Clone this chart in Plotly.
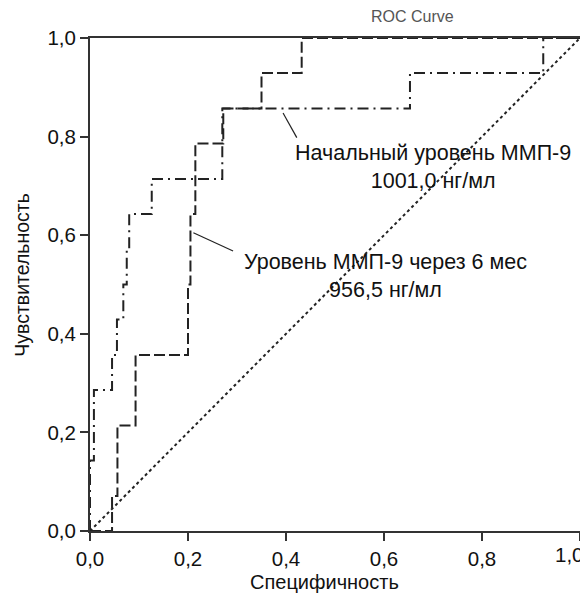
import plotly.graph_objects as go

# ROC points (1 - specificity, sensitivity)
fpr_6m = [0.0, 0.045, 0.056, 0.093, 0.200, 0.205, 0.215, 0.272, 0.350, 0.432, 1.0]
tpr_6m = [0.0, 0.071, 0.214, 0.357, 0.500, 0.643, 0.786, 0.857, 0.929, 1.000, 1.0]

fpr_base = [0.0, 0.0, 0.008, 0.045, 0.055, 0.068, 0.075, 0.080, 0.126, 0.270, 0.653, 0.925, 1.0]
tpr_base = [0.0, 0.143, 0.286, 0.357, 0.429, 0.500, 0.571, 0.643, 0.714, 0.857, 0.929, 1.000, 1.0]

diag_x = [0.0, 1.0]
diag_y = [0.0, 1.0]

tick_vals = [0.0, 0.2, 0.4, 0.6, 0.8, 1.0]
tick_text = ["0,0", "0,2", "0,4", "0,6", "0,8", "1,0"]

label_base = "Начальный уровень ММП-9<br>1001,0 нг/мл"
label_6m = "Уровень ММП-9 через 6 мес<br>956,5 нг/мл"
x_title = "Специфичность"
y_title = "Чувствительность"
chart_title = "ROC Curve"

FONT = "Liberation Sans, Arial, sans-serif"
INK = "#222222"
TXT = "#111111"

# the page body has an 8px margin, so the figure is drawn 8px smaller and
# all page-pixel positions below are shifted by that offset
OFF = 8
W, H = 588 - OFF, 595 - OFF
L, T = 90 - OFF, 38 - OFF
R = W - (580 - OFF)
B = H - (531.5 - OFF)
PW, PH = W - L - R, H - T - B


def px_x(p):  # page pixel -> paper x
    return (p - OFF - L) / PW


def px_y(p):  # page pixel -> paper y
    return (H - B - (p - OFF)) / PH


fig = go.Figure()
fig.add_trace(go.Scatter(x=diag_x, y=diag_y, mode="lines",
                         line=dict(color=INK, width=2, dash="3px,3px"),
                         hoverinfo="skip", showlegend=False))
fig.add_trace(go.Scatter(x=fpr_base, y=tpr_base, mode="lines", line_shape="hv",
                         line=dict(color=INK, width=2, dash="11px,5px,2px,5px"),
                         showlegend=False))
fig.add_trace(go.Scatter(x=fpr_6m, y=tpr_6m, mode="lines", line_shape="hv",
                         line=dict(color=INK, width=2, dash="11px,4px"),
                         showlegend=False))

# leader lines
fig.add_shape(type="line", xref="x", yref="y", x0=0.394, y0=0.848, x1=0.422, y1=0.798,
              line=dict(color=INK, width=1.2))
fig.add_shape(type="line", xref="x", yref="y", x0=0.211, y0=0.605, x1=0.292, y1=0.568,
              line=dict(color=INK, width=1.2))

fig.add_annotation(x=0.70, y=0.738, xref="x", yref="y", text=label_base, showarrow=False,
                   font=dict(family=FONT, size=21.5, color=TXT), align="center")
fig.add_annotation(x=0.604, y=0.517, xref="x", yref="y", text=label_6m, showarrow=False,
                   font=dict(family=FONT, size=21.5, color=TXT), align="center")
fig.add_annotation(x=px_x(412), y=px_y(16), xref="paper", yref="paper", text=chart_title,
                   showarrow=False, xanchor="center", yanchor="middle",
                   font=dict(family=FONT, size=16, color="#555"))
# axis titles
fig.add_annotation(x=px_x(324), y=px_y(583), xref="paper", yref="paper", text=x_title,
                   showarrow=False, xanchor="center", yanchor="middle",
                   font=dict(family=FONT, size=20, color=TXT))
fig.add_annotation(x=px_x(22), y=px_y(275), xref="paper", yref="paper", text=y_title,
                   showarrow=False, xanchor="center", yanchor="middle", textangle=-90,
                   font=dict(family=FONT, size=19.5, color=TXT))
# last x tick label sits flush with the right edge in the original
fig.add_annotation(x=px_x(586), y=px_y(555), xref="paper", yref="paper", text=tick_text[-1],
                   showarrow=False, xanchor="right", yanchor="middle",
                   font=dict(family=FONT, size=20.5, color=TXT))

axis_common = dict(
    range=[0, 1], tickvals=tick_vals, automargin=False,
    showgrid=False, zeroline=False, showline=True, linecolor="#333", linewidth=2,
    mirror=True, ticks="outside", ticklen=8, tickwidth=1.5, tickcolor="#333",
    tickfont=dict(family=FONT, size=20.5, color=TXT),
)

fig.update_layout(
    width=W, height=H,
    margin=dict(l=L, r=R, t=T, b=B),
    plot_bgcolor="white", paper_bgcolor="white",
    xaxis=dict(**axis_common, ticktext=tick_text[:-1] + [""]),
    yaxis=dict(**axis_common, ticktext=tick_text),
)

fig.write_html("out.html")
